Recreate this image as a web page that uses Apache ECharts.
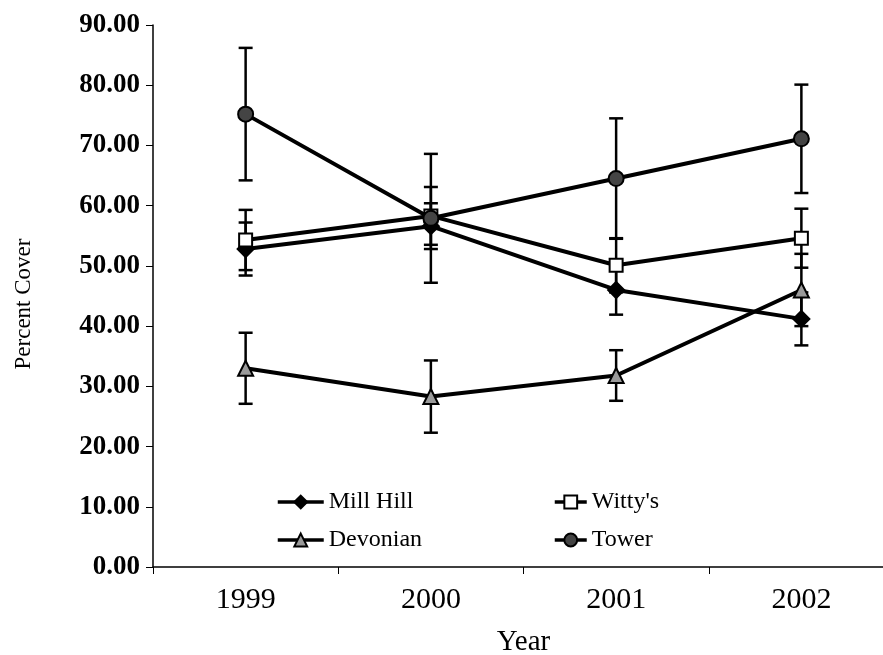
<!DOCTYPE html>
<html>
<head>
<meta charset="utf-8">
<script src="https://cdn.jsdelivr.net/npm/echarts@6/dist/echarts.min.js"></script>
<style>html,body{margin:0;padding:0;background:#fff}#c{width:883px;height:655px}</style>
</head>
<body>
<div id="c"></div>
<script>
var years = ['1999', '2000', '2001', '2002'];
var yTicks = [0, 10, 20, 30, 40, 50, 60, 70, 80, 90];
var millHill = [52.8, 56.6, 46.0, 41.2];
var millHillErr = [4.4, 3.8, 4.1, 4.4];
var wittys = [54.3, 58.3, 50.1, 54.6];
var wittysErr = [5.0, 4.8, 4.5, 4.9];
var devonian = [33.0, 28.3, 31.8, 46.0];
var devonianErr = [5.9, 6.0, 4.2, 6.0];
var tower = [75.2, 57.9, 64.5, 71.1];
var towerErr = [11.0, 10.7, 10.0, 9.0];

var FONT = '"Liberation Serif", "Times New Roman", serif';

function errData(vals, errs) {
  return vals.map(function (v, i) { return [i, v - errs[i], v + errs[i]]; });
}
function errSeries(vals, errs) {
  return {
    type: 'custom',
    silent: true,
    z: 1,
    encode: { x: 0, y: [1, 2] },
    data: errData(vals, errs),
    renderItem: function (params, api) {
      var lo = api.coord([api.value(0), api.value(1)]);
      var hi = api.coord([api.value(0), api.value(2)]);
      var w = 7;
      var st = { stroke: '#000', lineWidth: 2.5 };
      return {
        type: 'group',
        children: [
          { type: 'line', shape: { x1: hi[0], y1: hi[1], x2: lo[0], y2: lo[1] }, style: st },
          { type: 'line', shape: { x1: hi[0] - w, y1: hi[1], x2: hi[0] + w, y2: hi[1] }, style: st },
          { type: 'line', shape: { x1: lo[0] - w, y1: lo[1], x2: lo[0] + w, y2: lo[1] }, style: st }
        ]
      };
    }
  };
}
function lineSeries(name, vals, symbol, size, fill) {
  return {
    name: name,
    type: 'line',
    z: 3,
    data: vals,
    symbol: symbol,
    symbolSize: size,
    lineStyle: { color: '#000', width: 4 },
    itemStyle: { color: fill, borderColor: '#000', borderWidth: 2 },
    emphasis: { disabled: true }
  };
}

var chart = echarts.init(document.getElementById('c'));
var legendText = { fontFamily: FONT, fontSize: 24, color: '#000' };
chart.setOption({
  animation: false,
  backgroundColor: '#fff',
  grid: { left: 153, top: 25, bottom: 88, right: -11, containLabel: false, outerBoundsMode: 'none' },
  graphic: [{
    type: 'text',
    x: 24, y: 304,
    rotation: Math.PI / 2,
    style: {
      text: 'Percent Cover',
      font: '23px "Liberation Serif", serif',
      fill: '#000',
      align: 'center',
      verticalAlign: 'middle'
    }
  }],
  xAxis: {
    type: 'category',
    data: years,
    boundaryGap: true,
    name: 'Year',
    nameLocation: 'middle',
    nameGap: 61,
    nameTextStyle: { fontFamily: FONT, fontSize: 29, color: '#000' },
    axisLine: { lineStyle: { color: '#000', width: 1.5 } },
    axisTick: { show: true, length: 7, inside: false, lineStyle: { color: '#000' } },
    axisLabel: { fontFamily: FONT, fontSize: 30, color: '#000', margin: 18 },
    splitLine: { show: false }
  },
  yAxis: {
    type: 'value',
    min: yTicks[0],
    max: yTicks[yTicks.length - 1],
    interval: 10,
    axisLine: { show: true, lineStyle: { color: '#000', width: 1.5 } },
    axisTick: { show: true, length: 7, inside: false, lineStyle: { color: '#000' } },
    axisLabel: {
      fontFamily: FONT, fontSize: 27, fontWeight: 'bold', color: '#000', margin: 13,
      formatter: function (v) { return v.toFixed(2); }
    },
    splitLine: { show: false }
  },
  legend: [
    {
      data: ['Mill Hill', 'Devonian'],
      orient: 'vertical',
      left: 276, top: 490, padding: 0,
      itemWidth: 46, itemHeight: 16, itemGap: 14,
      lineStyle: { width: 3.5 },
      textStyle: legendText
    },
    {
      data: ["Witty's", 'Tower'],
      orient: 'vertical',
      left: 553, top: 490, padding: 0,
      itemWidth: 32, itemHeight: 16, itemGap: 14,
      lineStyle: { width: 3.5 },
      textStyle: legendText
    }
  ],
  series: [
    errSeries(millHill, millHillErr),
    errSeries(wittys, wittysErr),
    errSeries(devonian, devonianErr),
    errSeries(tower, towerErr),
    lineSeries('Mill Hill', millHill, 'diamond', 16, '#000'),
    lineSeries("Witty's", wittys, 'rect', 13, '#fff'),
    lineSeries('Devonian', devonian, 'triangle', 15, '#9a9a9a'),
    lineSeries('Tower', tower, 'circle', 15, '#444')
  ]
});
</script>
</body>
</html>
